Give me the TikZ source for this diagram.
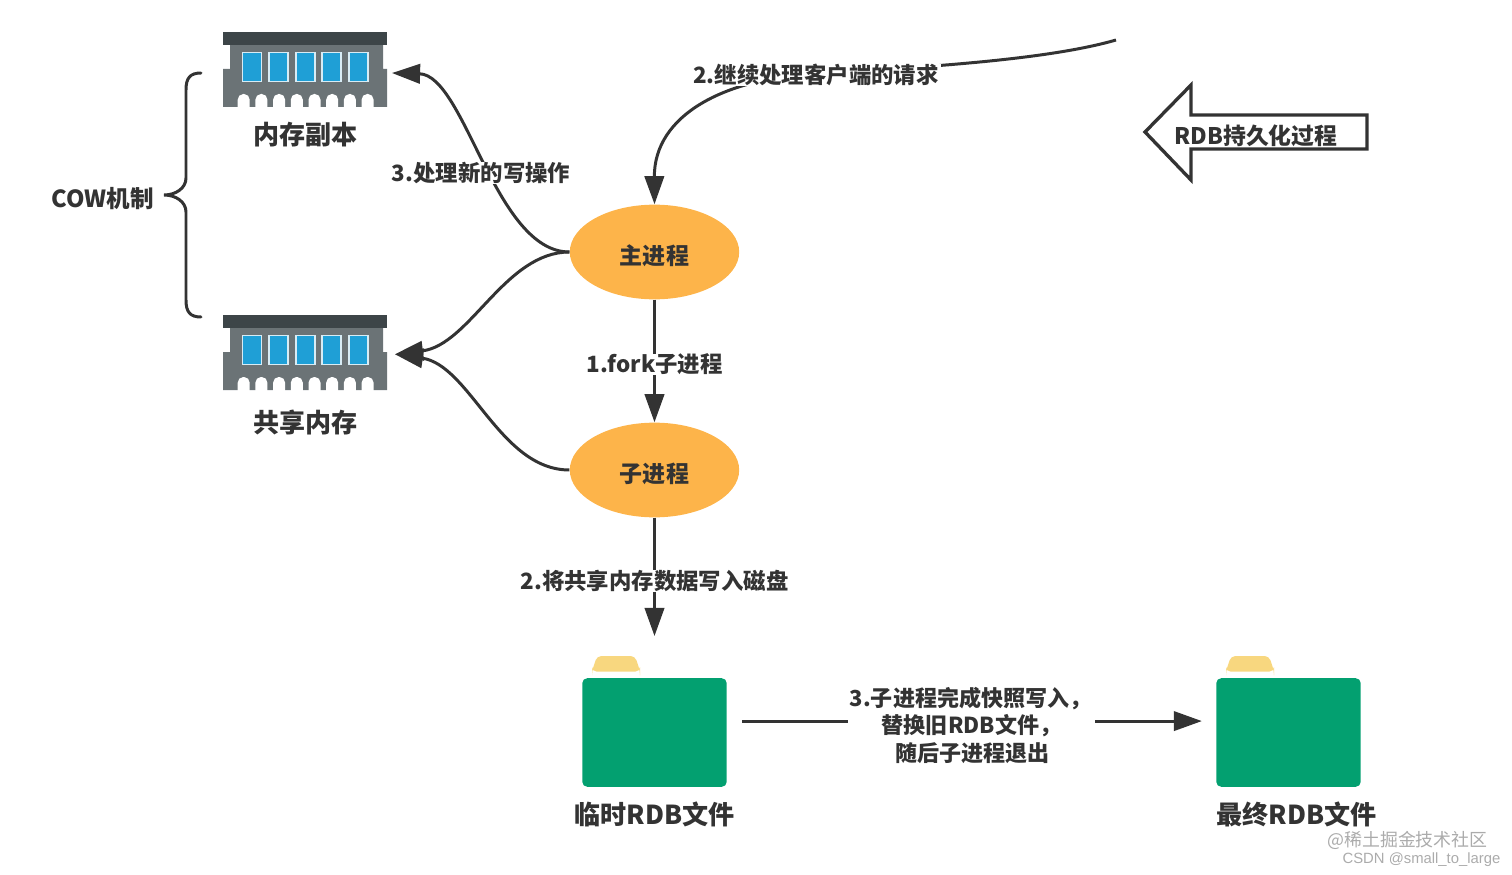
\documentclass[tikz,border=0pt]{standalone}
\usepackage{fontspec}
\setmainfont{Noto Sans CJK SC}
\newfontfamily\markfont{Liberation Sans}
\usetikzlibrary{arrows.meta,shapes.geometric}
\definecolor{inkgray}{HTML}{333333}
\definecolor{chipdark}{HTML}{3D4548}
\definecolor{chipgray}{HTML}{6B7376}
\definecolor{chipblue}{HTML}{1F9FD6}
\definecolor{chipedge}{HTML}{D8ECF5}
\definecolor{procorange}{HTML}{FDB44A}
\definecolor{foldergreen}{HTML}{03A070}
\definecolor{tabyellow}{HTML}{F8D77F}
\definecolor{markgray}{HTML}{ABABAB}
\tikzset{
    flow/.style={draw=inkgray,line width=1.7pt,-{Triangle[length=16pt,width=11pt]}},
    plainline/.style={draw=inkgray,line width=1.7pt,line cap=round},
    steplabel/.style={fill=white,text=inkgray,font=\fontsize{12.75}{15.6}\selectfont\bfseries,inner xsep=1pt,inner ysep=0pt,yshift=-0.5pt},
    titlelabel/.style={text=inkgray,font=\fontsize{14.85}{17}\selectfont\bfseries,inner sep=0pt},
    procnode/.style={ellipse,fill=procorange,text=inkgray,minimum width=96.4pt,minimum height=53.9pt,inner sep=0pt,text height=16pt,text depth=2pt,font=\fontsize{13.1}{15}\selectfont\bfseries},
    chipbox/.style={minimum width=93pt,minimum height=42.5pt,inner sep=0pt},
    folderbox/.style={fill=foldergreen,rounded corners=2.8pt,minimum width=82.2pt,minimum height=61.8pt,inner sep=0pt}
}
\begin{document}
\begin{tikzpicture}[x=0.02cm,y=-0.02cm]
    \useasboundingbox (0,0) rectangle (1512,875);

    \foreach \chipname/\chiptitle/\dy/\titley in {copymem/内存副本/0/135,sharemem/共享内存/283/140}{
        \begin{scope}[shift={(0,\dy)}]
            \fill[chipgray]
                (230,45) -- (383,45) -- (383,69) -- (387,69) -- (387,107)
                -- (223,107) -- (223,69) -- (230,69) -- cycle;
            \foreach \nx in {0,...,7}
                \fill[white,rounded corners=3.2pt]
                    ({237.7+17.7*\nx},94) rectangle ({249.7+17.7*\nx},116);
            \fill[white] (215,108) rectangle (395,118);
            \fill[chipdark]
                (223,32) rectangle (387,45);
            \foreach \nx in {0,...,4}
                \filldraw[fill=chipblue,draw=chipedge,line width=1pt]
                    ({242.5+26.6*\nx},52.5) rectangle ({261.5+26.6*\nx},81.5);
            \node[chipbox] (\chipname) at (305,69.5) {};
            \node[titlelabel] (\chipname title) at (305.5,\titley) {\chiptitle};
        \end{scope}
    }

    \foreach \filename/\filetitle/\dx/\titlex in {tmpfile/临时RDB文件/0/654.5,lastfile/最终RDB文件/634/1296.5}{
        \begin{scope}[shift={(\dx,0)}]
            \fill[tabyellow,rounded corners=2.5pt]
                (592,671.5) -- (592,671) -- (597,656) -- (635,656) -- (640,671) -- (640,671.5) -- cycle;
            \node[folderbox] (\filename) at (654.5,732.5) {};
        \end{scope}
        \node[titlelabel] (\filename title) at (\titlex,814) {\filetitle};
    }

    \node[procnode] (mainp) at (654.5,252) {主进程};
    \node[procnode] (childp) at (654.5,470) {子进程};
    \coordinate (clientend) at (1116,40);

    \draw[flow]
        (mainp.south) -- node[steplabel,pos=.52] (forklabel) {1.fork子进程} (childp.north);
    \draw[flow,shorten >=23.8pt]
        (childp.south) -- node[steplabel,pos=.39] (dumplabel) {2.将共享内存数据写入磁盘} (tmpfile.north);
    \draw[flow]
        (mainp.west) .. controls (495,252) and (465,75) .. node[steplabel,pos=.5,xshift=0.5pt,yshift=-5.2pt] (writelabel) {3.处理新的写操作} ([xshift=2.8pt,yshift=-2pt]copymem.east);
    \draw[flow]
        (mainp.west) .. controls (505,252) and (470,345) .. ([xshift=4.5pt,yshift=-1pt]sharemem.east);
    \draw[flow]
        (childp.west) .. controls (500,470) and (470,365) .. ([xshift=4.5pt,yshift=-1pt]sharemem.east);
    \draw[flow]
        (clientend) .. controls (1040,62) and (900,68) .. (816,74)
        node[steplabel] (clientlabel) {2.继续处理客户端的请求}
        .. controls (725,78) and (654,115) .. (mainp.north);
    \draw[flow,shorten <=8.5pt,shorten >=8pt]
        ([yshift=6.5pt]tmpfile.east) -- node[steplabel,font=\fontsize{12.55}{15.6}\selectfont\bfseries,pos=.5,minimum width=139.5pt,align=center,yshift=-2pt] (swaplabel) {3.子进程完成快照写入，\hspace*{1pt}\\替换旧RDB文件，\hspace*{1pt}\\\hspace{2pt}随后子进程退出\hspace*{1pt}} ([yshift=6.5pt]lastfile.west);

    \draw[plainline]
        (201,73) .. controls (190,73) and (186,78) .. (186,90) -- (186,178)
        .. controls (186,188) and (176,195) .. (164,195)
        .. controls (176,195) and (186,202) .. (186,212) -- (186,300)
        .. controls (186,312) and (190,317) .. (201,317);
    \node[text=inkgray,font=\fontsize{13.4}{15}\selectfont\bfseries,inner sep=0pt] (cowlabel) at (102.5,199) {COW机制};

    \draw[draw=inkgray,fill=white,line width=1.9pt,miter limit=10]
        (1145,132) -- (1191,85) -- (1191,115) -- (1367,115) -- (1367,149) -- (1191,149) -- (1191,180) -- cycle;
    \node[text=inkgray,font=\fontsize{13}{15}\selectfont\bfseries,inner sep=0pt] (rdblabel) at (1256,136) {RDB持久化过程};

    \node[text=markgray,font=\fontsize{10.2}{12}\selectfont,inner sep=0pt] (marktop) at (1407.5,840) {@稀土掘金技术社区};
    \node[text=markgray,font=\markfont\fontsize{8.45}{11}\selectfont,inner sep=0pt] (markbottom) at (1421.5,859.5) {CSDN @small\_to\_large};
\end{tikzpicture}
\end{document}
